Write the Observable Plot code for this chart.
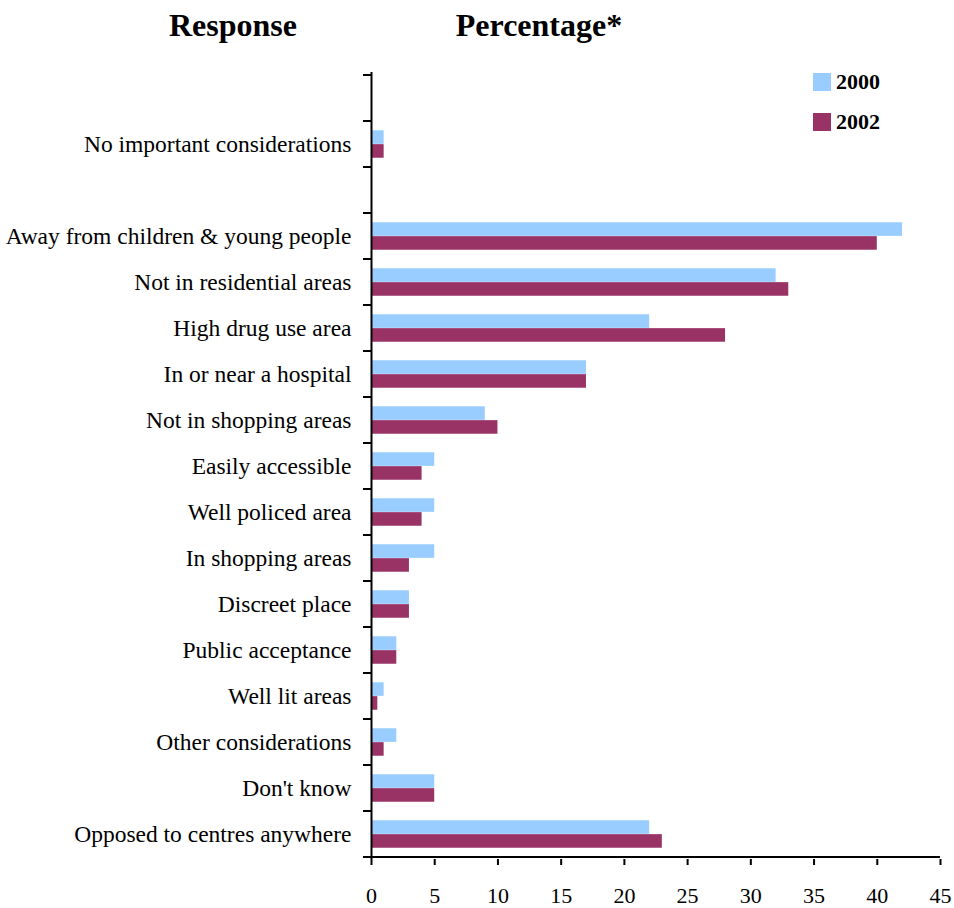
<!DOCTYPE html>
<html>
<head>
<meta charset="utf-8">
<script src="https://cdn.jsdelivr.net/npm/d3@7"></script>
<script src="https://cdn.jsdelivr.net/npm/@observablehq/plot@0.6"></script>
<style>
  body { margin: 0; background: #fff; }
  #wrap { position: relative; width: 954px; height: 908px; font-family: "Liberation Serif", "DejaVu Serif", serif; color: #000; }
  #wrap svg { position: absolute; left: 0; top: 0; }
  .title { position: absolute; top: 9px; line-height: 32px; font-weight: bold; font-size: 32px; transform: translateX(-50%); white-space: nowrap; z-index: 2; }
  .leg { position: absolute; left: 813px; display: flex; align-items: center; font-weight: bold; font-size: 22px; line-height: 18px; z-index: 2; }
  .leg span.sw { display: inline-block; width: 18px; height: 18px; margin-right: 5px; }
</style>
</head>
<body>
<div id="wrap">
  <div class="title" style="left:233px">Response</div>
  <div class="title" style="left:539px">Percentage*</div>
  <div id="legend"></div>
</div>
<script>
// ---- data ----
const categories = [
  "No important considerations",
  "Away from children & young people",
  "Not in residential areas",
  "High drug use area",
  "In or near a hospital",
  "Not in shopping areas",
  "Easily accessible",
  "Well policed area",
  "In shopping areas",
  "Discreet place",
  "Public acceptance",
  "Well lit areas",
  "Other considerations",
  "Don't know",
  "Opposed to centres anywhere"
];
const values2000 = [1, 42, 32, 22, 17, 9, 5, 5, 5, 3, 2, 1, 2, 5, 22];
const values2002 = [1, 40, 33, 28, 17, 10, 4, 4, 3, 3, 2, 0.5, 1, 5, 23];
const seriesNames = ["2000", "2002"];
const seriesColors = ["#99ccff", "#993366"];
const xTicks = [0, 5, 10, 15, 20, 25, 30, 35, 40, 45];

// ---- layout ----
const W = 954, H = 908, mt = 72, mb = 49, ml = 371, mr = 14;
const gapTop = "\u0000gap-top", gapMid = "\u0000gap-mid";
const yDomain = [gapTop, categories[0], gapMid, ...categories.slice(1)];
const band = (H - mt - mb) / yDomain.length;
const outer = band * 0.2;

const data = categories.map((c, i) => ({category: c, v2000: values2000[i], v2002: values2002[i]}));

function boundaryTicks(index, scales) {
  const y = scales.y, x = scales.x;
  const step = y(yDomain[1]) - y(yDomain[0]);
  const ys = yDomain.map(d => y(d));
  ys.push(ys[ys.length - 1] + step);
  const x0 = x(0);
  const g = d3.create("svg:g").attr("stroke", "#000").attr("stroke-width", 2);
  for (const yy of ys) {
    g.append("line").attr("x1", x0 - 8).attr("x2", x0).attr("y1", yy).attr("y2", yy);
  }
  const yb = ys[ys.length - 1];
  g.append("line").attr("x1", x0 - 8).attr("x2", x(xTicks[xTicks.length - 1])).attr("y1", yb).attr("y2", yb);
  return g.node();
}

const chart = Plot.plot({
  width: W, height: H,
  marginTop: mt, marginBottom: mb, marginLeft: ml, marginRight: mr,
  style: {fontFamily: "'Liberation Serif', 'DejaVu Serif', serif", fontSize: "21px", color: "#000", background: "transparent"},
  x: {domain: [0, 45]},
  y: {domain: yDomain, padding: 0},
  marks: [
    Plot.barX(data, {y: "category", x: "v2000", fill: seriesColors[0], insetTop: outer, insetBottom: band / 2}),
    Plot.barX(data, {y: "category", x: "v2002", fill: seriesColors[1], insetTop: band / 2, insetBottom: outer}),
    Plot.ruleX([0], {stroke: "#000", strokeWidth: 2}),
    Plot.axisX({ticks: xTicks, tickSize: 6, tickPadding: 22, strokeWidth: 2, label: null, fontSize: 22}),
    Plot.axisY({tickSize: 0, tickPadding: 20, label: null, fontSize: 23.5,
      tickFormat: d => d.startsWith("\u0000") ? "" : d}),
    boundaryTicks
  ]
});
document.getElementById("wrap").appendChild(chart);

const legend = document.getElementById("legend");
seriesNames.forEach((name, i) => {
  const div = document.createElement("div");
  div.className = "leg";
  div.style.top = (73 + i * 40) + "px";
  const sw = document.createElement("span");
  sw.className = "sw";
  sw.style.background = seriesColors[i];
  div.appendChild(sw);
  div.appendChild(document.createTextNode(name));
  legend.appendChild(div);
});
</script>
</body>
</html>
